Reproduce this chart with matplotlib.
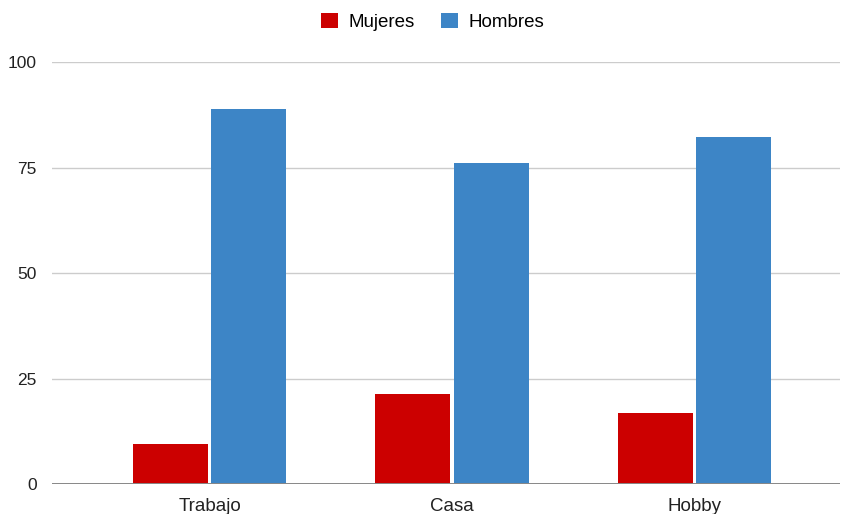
import numpy as np
import matplotlib
matplotlib.use("Agg")
import matplotlib.pyplot as plt
from matplotlib.patches import Patch

categories = ["Trabajo", "Casa", "Hobby"]
mujeres = [9.5, 21.3, 16.8]
hombres = [88.9, 76.2, 82.2]
series_labels = ["Mujeres", "Hombres"]
colors = ["#cc0000", "#3d85c6"]
yticks = [0, 25, 50, 75, 100]

plt.rcParams.update({"font.family": "Liberation Sans", "font.size": 12})

fig = plt.figure(figsize=(8.45, 5.14), dpi=100)
ax = fig.add_axes([52 / 845, (514 - 484.3) / 514, 788 / 845, 422 / 514])

x = np.arange(len(categories))
w = 0.31
gap = 0.007
ax.bar(x - w / 2 - gap, mujeres, width=w, color=colors[0], zorder=3)
ax.bar(x + w / 2 + gap, hombres, width=w, color=colors[1], zorder=3)

ax.set_xlim(-0.65, 2.6)
ax.set_ylim(0, 100)
ax.set_yticks(yticks)
ax.set_xticks(x)
ax.set_xticklabels(categories)
ax.yaxis.grid(True, color="#cccccc", lw=1, zorder=0)
ax.axhline(0, color="#888888", lw=1.4, zorder=4)
for s in ax.spines.values():
    s.set_visible(False)
ax.tick_params(axis="both", length=0, colors="#222222")
ax.tick_params(axis="y", pad=11, labelsize=12.5)
ax.tick_params(axis="x", pad=10, labelsize=13.5)

handles = [Patch(facecolor=c, label=l) for c, l in zip(colors, series_labels)]
fig.legend(handles=handles, loc="center", bbox_to_anchor=(0.512, 1 - 22 / 514),
           ncol=2, frameon=False, handlelength=0.9, handleheight=0.9,
           columnspacing=1.4, handletextpad=0.55, fontsize=13.5)

fig.savefig("out.png", dpi=100, facecolor="white")
